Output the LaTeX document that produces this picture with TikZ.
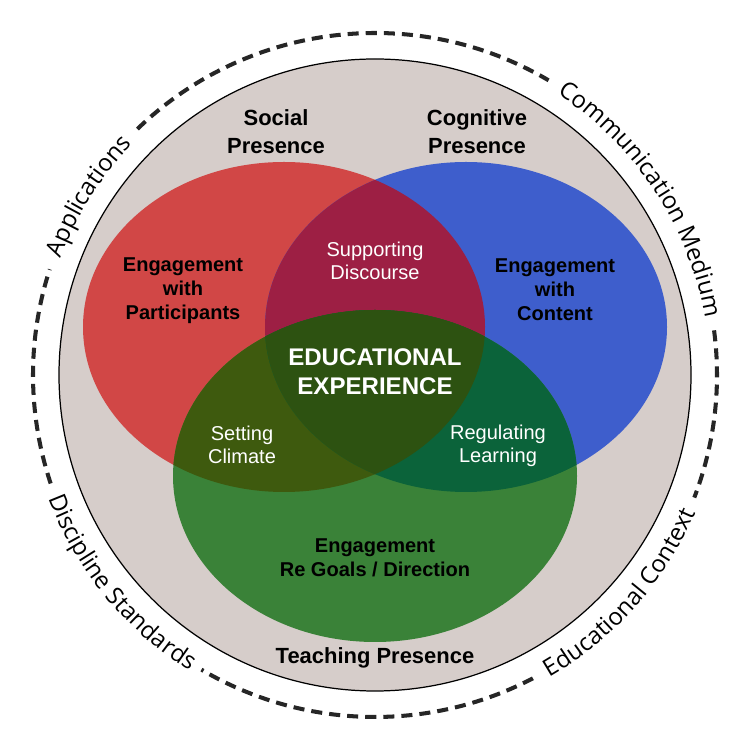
\documentclass[tikz,border=0pt]{standalone}
\usepackage{fontspec}
\setmainfont{Liberation Sans}
\newfontfamily\ringfont{Open Sans}
\usetikzlibrary{decorations.text}

\definecolor{ringgray}{RGB}{214,205,202}
\definecolor{socred}{RGB}{209,71,70}
\definecolor{cogblue}{RGB}{62,94,204}
\definecolor{teachgreen}{RGB}{58,130,56}
\definecolor{redblue}{RGB}{157,31,68}
\definecolor{redgreen}{RGB}{62,90,14}
\definecolor{bluegreen}{RGB}{11,99,58}
\definecolor{coregreen}{RGB}{45,82,17}

\newcommand{\ringtext}{\ringfont\fontsize{13.6}{15}\selectfont}

\begin{document}
\begin{tikzpicture}[x=0.02cm, y=0.02cm,
    title/.style={font=\fontsize{12.5}{15.9}\selectfont\bfseries, align=center, text=black},
    part/.style={font=\fontsize{11.4}{13.7}\selectfont\bfseries, align=center, text=black},
    overlap/.style={font=\fontsize{11.4}{13.4}\selectfont, align=center, text=white},
    ringdash/.style={line width=2.3pt, dash pattern=on 6.3pt off 4pt, black!85},
    ringpath/.style={decorate, decoration={text along path, text align=center, text={|\ringtext|#1}}}]
            \useasboundingbox (0,0) rectangle (750,750);
            \coordinate (ctr) at (375,375);
            \coordinate (soc) at (284,423);
            \coordinate (cog) at (466,423);
            \coordinate (tea) at (375,274);

            % outer context ring
            \fill[ringgray] (ctr) circle[radius=316];
            \draw[black, line width=0.7pt] (ctr) circle[radius=316];
            \draw[ringdash] (ctr) ++(134:342) arc[start angle=134, end angle=59.5, radius=342];
            \draw[ringdash] (ctr) ++(7.5:342) arc[start angle=7.5, end angle=-21, radius=342];
            \draw[ringdash] (ctr) ++(-62.5:342) arc[start angle=-62.5, end angle=-120.5, radius=342];
            \draw[ringdash] (ctr) ++(198.5:342) arc[start angle=198.5, end angle=162, radius=342];

            \path[ringpath=Applications] (ctr) ++(183:335) arc[start angle=183, end angle=113, radius=335];
            \path[ringpath=Communication Medium] (ctr) ++(68.4:335) arc[start angle=68.4, end angle=-1.6, radius=335];
            \path[ringpath=Discipline Standards] (ctr) ++(184.3:349) arc[start angle=184.3, end angle=254.3, radius=349];
            \path[ringpath=Educational Context] (ctr) ++(283.4:349) arc[start angle=283.4, end angle=353.4, radius=349];

            % the three presences
            \fill[socred] (soc) ellipse[x radius=201, y radius=165];
            \fill[cogblue] (cog) ellipse[x radius=201, y radius=165];
            \fill[teachgreen] (tea) ellipse[x radius=202, y radius=166];

            \begin{scope}
                \clip (soc) ellipse[x radius=201, y radius=165];
                \fill[redblue] (cog) ellipse[x radius=201, y radius=165];
                \fill[redgreen] (tea) ellipse[x radius=202, y radius=166];
                \clip (cog) ellipse[x radius=201, y radius=165];
                \fill[coregreen] (tea) ellipse[x radius=202, y radius=166];
            \end{scope}
            \begin{scope}
                \clip (cog) ellipse[x radius=201, y radius=165];
                \clip (tea) ellipse[x radius=202, y radius=166];
                \fill[bluegreen] (cog) ellipse[x radius=201, y radius=165];
                \clip (soc) ellipse[x radius=201, y radius=165];
                \fill[coregreen] (tea) ellipse[x radius=202, y radius=166];
            \end{scope}

            \node[title] (social) at (276,618) {Social\\Presence};
            \node[title] (cognitive) at (477,618) {Cognitive\\Presence};
            \node[title] (teaching) at (375,92) {Teaching Presence};

            \node[part] (engpart) at (183,459) {Engagement\\with\\Participants};
            \node[part] (engcont) at (555,460) {Engagement\\with\\Content};
            \node[part] (enggoal) at (375,192) {Engagement\\Re Goals / Direction};

            \node[overlap] (discourse) at (375,489) {Supporting\\Discourse};
            \node[overlap] (climate) at (242,305) {Setting\\Climate};
            \node[overlap] (learning) at (498,304) {Regulating\\Learning};
            \node[font=\fontsize{13.7}{16.5}\selectfont\bfseries, align=center, text=white] (edu) at (375,378) {EDUCATIONAL\\EXPERIENCE};
        \end{tikzpicture}
\end{document}
